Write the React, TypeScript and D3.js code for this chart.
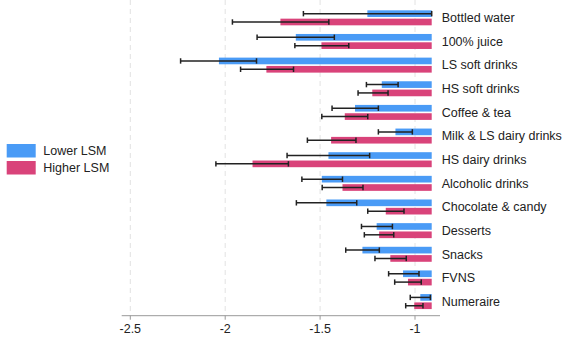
import React from "react";
import * as d3 from "d3";

const categories = [
  "Bottled water", "100% juice", "LS soft drinks", "HS soft drinks", "Coffee & tea",
  "Milk & LS dairy drinks", "HS dairy drinks", "Alcoholic drinks", "Chocolate & candy",
  "Desserts", "Snacks", "FVNS", "Numeraire",
];
const seriesNames = ["Lower LSM", "Higher LSM"];
const lowerValues = [-1.251, -1.628, -2.033, -1.175, -1.316, -1.103, -1.456, -1.491, -1.467, -1.202, -1.277, -1.063, -0.972];
const lowerCILow = [-1.588, -1.832, -2.235, -1.256, -1.437, -1.193, -1.674, -1.596, -1.625, -1.282, -1.365, -1.139, -1.025];
const lowerCIHigh = [-0.912, -1.425, -1.835, -1.089, -1.193, -1.014, -1.239, -1.382, -1.307, -1.119, -1.188, -0.979, -0.919];
const higherValues = [-1.709, -1.493, -1.783, -1.225, -1.370, -1.442, -1.856, -1.382, -1.154, -1.189, -1.130, -1.037, -1.004];
const higherCILow = [-1.962, -1.633, -1.919, -1.300, -1.491, -1.567, -2.049, -1.489, -1.249, -1.267, -1.211, -1.107, -1.049];
const higherCIHigh = [-1.454, -1.349, -1.640, -1.142, -1.249, -1.311, -1.667, -1.274, -1.058, -1.112, -1.046, -0.967, -0.958];
const tickValues = [-2.5, -2, -1.5, -1];
const baseValue = -0.912;

const W = 568, H = 341;
const COLORS = ["#4a9bf6", "#d9437a"];
const FONT = "'Liberation Sans', Arial, sans-serif";

export default function App() {
  const x = d3.scaleLinear().domain([-2.5, -1]).range([130.3, 415]);
  const y = d3.scaleBand<string>().domain(categories).range([6, 313.4]).padding(0);
  const inner = d3.scaleBand<string>().domain(seriesNames).range([-7.5, 7.5]).paddingInner(0.2).paddingOuter(0);
  const axisY = 315.7;
  const xMin = x.invert(121.7);
  const xMax = x.invert(440);

  const series = [
    { name: seriesNames[0], v: lowerValues, lo: lowerCILow, hi: lowerCIHigh },
    { name: seriesNames[1], v: higherValues, lo: higherCILow, hi: higherCIHigh },
  ];

  return (
    <svg width={W} height={H} style={{ position: "absolute", left: 0, top: 0, background: "#fff" }} fontFamily={FONT}>
      {tickValues.map((t) => (
        <line key={"g" + t} x1={x(t)} x2={x(t)} y1={0} y2={axisY} stroke="#e2e2e2" strokeWidth={1} strokeDasharray="5,4" />
      ))}
      {series.map((s, si) =>
        categories.map((c, i) => {
          const cy = (y(c) as number) + y.bandwidth() / 2;
          const by = cy + (inner(s.name) as number);
          const bh = inner.bandwidth();
          const mid = by + bh / 2;
          return (
            <g key={s.name + c}>
              <rect x={x(s.v[i])} y={by} width={x(baseValue) - x(s.v[i])} height={bh} fill={COLORS[si]} />
              <line x1={x(s.lo[i])} x2={x(s.hi[i])} y1={mid} y2={mid} stroke="#222" strokeWidth={1.5} />
              <line x1={x(s.lo[i])} x2={x(s.lo[i])} y1={mid - 2.7} y2={mid + 2.7} stroke="#222" strokeWidth={1.5} />
              <line x1={x(s.hi[i])} x2={x(s.hi[i])} y1={mid - 2.7} y2={mid + 2.7} stroke="#222" strokeWidth={1.5} />
            </g>
          );
        })
      )}
      {categories.map((c) => (
        <text key={"l" + c} x={441.7} y={(y(c) as number) + y.bandwidth() / 2} dy="0.35em" fontSize={12.5} fill="#222">
          {c}
        </text>
      ))}
      <line x1={x(xMin)} x2={x(xMax)} y1={axisY} y2={axisY} stroke="#999" strokeWidth={1} />
      {tickValues.map((t) => (
        <g key={"t" + t}>
          <line x1={x(t)} x2={x(t)} y1={axisY} y2={axisY + 4} stroke="#999" strokeWidth={1} />
          <text x={x(t)} y={axisY + 13} dy="0.35em" textAnchor="middle" fontSize={12.5} fill="#222">
            {String(t)}
          </text>
        </g>
      ))}
      {seriesNames.map((n, i) => (
        <g key={"lg" + n}>
          <rect x={6.7} y={144 + i * 17} width={29} height={13.5} fill={COLORS[i]} />
          <text x={43.3} y={151 + i * 16.7} dy="0.35em" fontSize={12.5} fill="#222">{n}</text>
        </g>
      ))}
    </svg>
  );
}
